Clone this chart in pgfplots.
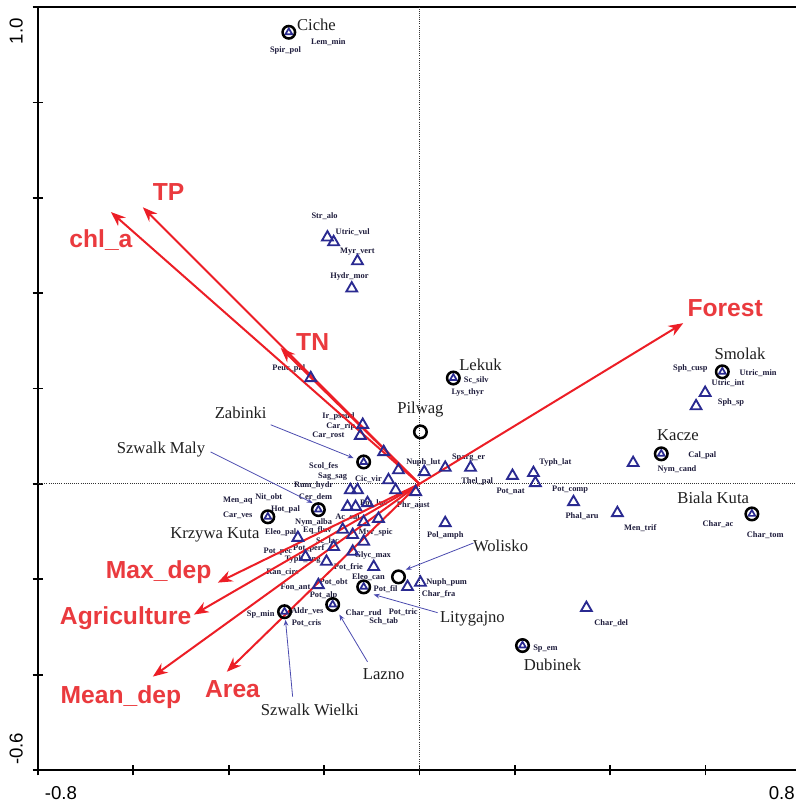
\documentclass[border=0pt]{standalone}
\usepackage{pgfplots}
\pgfplotsset{compat=1.18}
\usepackage{pgfplotstable}
\usepackage{fontspec}
\setmainfont{Liberation Serif}
\newfontfamily\arialf{Liberation Sans}
\usetikzlibrary{arrows.meta}

\definecolor{envred}{RGB}{236,30,38}
\definecolor{envlab}{RGB}{234,58,62}
\definecolor{spnavy}{RGB}{42,42,145}
\definecolor{splab}{RGB}{30,28,60}
\definecolor{leader}{RGB}{75,75,175}

% species scores (axis 1, axis 2)
\pgfplotstableread{
x y
-0.193 0.517
-0.180 0.507
-0.130 0.467
-0.142 0.410
-0.228 0.222
-0.119 0.124
-0.124 0.101
-0.075 0.067
-0.044 0.029
-0.065 0.008
-0.050 -0.013
-0.008 -0.017
0.010 0.025
-0.145 -0.013
-0.130 -0.013
-0.151 -0.048
-0.134 -0.048
-0.109 -0.040
-0.117 -0.080
-0.086 -0.073
-0.255 -0.113
-0.161 -0.096
-0.140 -0.107
-0.117 -0.121
-0.180 -0.132
-0.140 -0.142
-0.239 -0.153
-0.195 -0.163
-0.096 -0.174
-0.212 -0.212
-0.025 -0.216
0.002 -0.207
0.054 0.034
0.107 0.034
0.195 0.017
0.239 0.023
0.243 0.002
0.323 -0.038
0.415 -0.061
0.448 0.044
0.054 -0.082
0.350 -0.260
0.599 0.191
0.580 0.163
}\species

% species lying on a lake's own score
\pgfplotstableread{
x y
-0.274 0.947
0.071 0.222
0.635 0.235
0.507 0.063
0.697 -0.063
-0.117 0.046
-0.212 -0.054
-0.318 -0.069
-0.117 -0.216
-0.182 -0.253
-0.283 -0.268
0.216 -0.339
}\sitesp

% lake scores
\pgfplotstableread{
x y
-0.274 0.947
0.071 0.222
0.002 0.109
0.635 0.235
0.507 0.063
0.697 -0.063
-0.117 0.046
-0.212 -0.054
-0.318 -0.069
-0.044 -0.195
-0.117 -0.216
-0.182 -0.253
-0.283 -0.268
0.216 -0.339
}\sites

\newcommand\splab[3]{\node[font=\fontsize{6.3}{7}\selectfont\bfseries, text=splab, inner sep=0pt] at (axis cs:#1,#2) {#3};}
\newcommand\sitelab[3]{\node[font=\fontsize{12.5}{14}\selectfont, text=black!88, inner sep=0pt] at (axis cs:#1,#2) {#3};}
\newcommand\envlab[3]{\node[font=\arialf\bfseries\fontsize{18.5}{20}\selectfont, text=envlab, inner sep=0pt] at (axis cs:#1,#2) {#3};}

\begin{document}
\begin{tikzpicture}
\useasboundingbox (-28.5pt,-27pt) rectangle (568.5pt,578.25pt);
\begin{axis}[
  at={(0,0)}, anchor=south west,
  scale only axis, width=573pt, height=573pt,
  xmin=-0.8, xmax=0.8, ymin=-0.6, ymax=1.0,
  axis line style={line width=1.5pt},
  xtick={-0.8,-0.6,-0.4,-0.2,0,0.2,0.4,0.6,0.8},
  ytick={-0.6,-0.4,-0.2,0,0.2,0.4,0.6,0.8,1.0},
  xticklabels={}, yticklabels={},
  tick pos=left, tick align=center, major tick length=8pt,
  tick style={line width=1.3pt, black},
  clip=false,
]
% zero lines
\draw[densely dotted, line width=0.6pt, black!80] (axis cs:0,-0.6) -- (axis cs:0,1.0);
\draw[densely dotted, line width=0.6pt, black!80] (axis cs:-0.8,0) -- (axis cs:0.8,0);

% species
\addplot[only marks, mark=triangle, mark size=4.7pt, mark options={draw=spnavy, line width=1.4pt, fill=none}] table[x=x,y=y] {\species};
\addplot[only marks, mark=triangle, mark size=2.9pt, mark options={draw=spnavy, line width=1.3pt, fill=none}] table[x=x,y=y] {\sitesp};
% lakes
\addplot[only marks, mark=o, mark size=4.7pt, mark options={draw=black, line width=1.9pt}] table[x=x,y=y] {\sites};

% species names
\splab{-0.281}{0.909}{Spir\_pol}
\splab{-0.191}{0.926}{Lem\_min}
\splab{-0.199}{0.561}{Str\_alo}
\splab{-0.140}{0.528}{Utric\_vul}
\splab{-0.130}{0.488}{Myr\_vert}
\splab{-0.147}{0.434}{Hydr\_mor}
\splab{-0.274}{0.241}{Peuc\_pal}
\splab{-0.170}{0.142}{Ir\_pseud}
\splab{-0.165}{0.121}{Car\_rip}
\splab{-0.191}{0.101}{Car\_rost}
\splab{-0.201}{0.038}{Scol\_fes}
\splab{-0.182}{0.015}{Sag\_sag}
\splab{-0.107}{0.010}{Cic\_vir}
\splab{0.008}{0.044}{Nuph\_lut}
\splab{-0.013}{-0.044}{Phr\_aust}
\splab{-0.222}{-0.004}{Rum\_hydr}
\splab{-0.218}{-0.027}{Cer\_dem}
\splab{-0.316}{-0.027}{Nit\_obt}
\splab{-0.381}{-0.036}{Men\_aq}
\splab{-0.381}{-0.065}{Car\_ves}
\splab{-0.281}{-0.054}{Hot\_pal}
\splab{-0.096}{-0.040}{Pot\_luc}
\splab{-0.151}{-0.069}{Ac\_cal}
\splab{-0.222}{-0.080}{Nym\_alba}
\splab{-0.291}{-0.101}{Eleo\_pal}
\splab{-0.214}{-0.098}{Eq\_fluv}
\splab{-0.092}{-0.101}{Myr\_spic}
\splab{-0.193}{-0.121}{Sc\_lac}
\splab{-0.297}{-0.142}{Pot\_pec}
\splab{-0.232}{-0.136}{Pot\_perf}
\splab{-0.098}{-0.151}{Glyc\_max}
\splab{-0.245}{-0.159}{Typh\_ang}
\splab{-0.287}{-0.186}{Ran\_circ}
\splab{-0.149}{-0.174}{Pot\_frie}
\splab{-0.107}{-0.195}{Eleo\_can}
\splab{-0.260}{-0.216}{Fon\_ant}
\splab{-0.180}{-0.207}{Pot\_obt}
\splab{-0.071}{-0.220}{Pot\_fil}
\splab{-0.201}{-0.235}{Pot\_alp}
\splab{0.057}{-0.207}{Nuph\_pum}
\splab{0.040}{-0.232}{Char\_fra}
\splab{-0.333}{-0.274}{Sp\_min}
\splab{-0.235}{-0.266}{Aldr\_ves}
\splab{-0.237}{-0.291}{Pot\_cris}
\splab{-0.117}{-0.272}{Char\_rud}
\splab{-0.034}{-0.270}{Pot\_tric}
\splab{-0.075}{-0.287}{Sch\_tab}
\splab{0.119}{0.218}{Sc\_silv}
\splab{0.101}{0.191}{Lys\_thyr}
\splab{0.103}{0.054}{Sparg\_er}
\splab{0.121}{0.006}{Thel\_pal}
\splab{0.191}{-0.015}{Pot\_nat}
\splab{0.285}{0.044}{Typh\_lat}
\splab{0.316}{-0.013}{Pot\_comp}
\splab{0.341}{-0.067}{Phal\_aru}
\splab{0.463}{-0.092}{Men\_trif}
\splab{0.593}{0.059}{Cal\_pal}
\splab{0.540}{0.031}{Nym\_cand}
\splab{0.568}{0.241}{Sph\_cusp}
\splab{0.710}{0.232}{Utric\_min}
\splab{0.647}{0.212}{Utric\_int}
\splab{0.653}{0.170}{Sph\_sp}
\splab{0.626}{-0.084}{Char\_ac}
\splab{0.725}{-0.107}{Char\_tom}
\splab{0.054}{-0.109}{Pol\_amph}
\splab{0.402}{-0.291}{Char\_del}
\splab{0.264}{-0.346}{Sp\_em}

% environmental variables
\pgfplotsset{envarrow/.style={envred, line width=1.5pt, -{Stealth[length=11pt,width=8.5pt]}}}
\addplot[envarrow] coordinates {(0,0) (-0.647,0.570)};
\addplot[envarrow] coordinates {(0,0) (-0.580,0.580)};
\addplot[envarrow] coordinates {(0,0) (-0.291,0.285)};
\addplot[envarrow] coordinates {(0,0) (0.553,0.337)};
\addplot[envarrow] coordinates {(0,0) (-0.423,-0.207)};
\addplot[envarrow] coordinates {(0,0) (-0.473,-0.274)};
\addplot[envarrow] coordinates {(0,0) (-0.559,-0.404)};
\addplot[envarrow] coordinates {(0,0) (-0.404,-0.394)};

\envlab{-0.668}{0.511}{chl\_a}
\envlab{-0.526}{0.612}{TP}
\envlab{-0.224}{0.297}{TN}
\envlab{0.641}{0.369}{Forest}
\envlab{-0.547}{-0.184}{Max\_dep}
\envlab{-0.616}{-0.281}{Agriculture}
\envlab{-0.626}{-0.448}{Mean\_dep}
\envlab{-0.392}{-0.431}{Area}

% lake names and pointers
\sitelab{-0.216}{0.963}{Ciche}
\sitelab{0.128}{0.249}{Lekuk}
\sitelab{0.002}{0.155}{Pilwag}
\sitelab{0.672}{0.272}{Smolak}
\sitelab{0.542}{0.103}{Kacze}
\sitelab{0.616}{-0.029}{Biala Kuta}
\sitelab{-0.375}{0.149}{Zabinki}
\sitelab{-0.542}{0.073}{Szwalk Maly}
\sitelab{-0.429}{-0.107}{Krzywa Kuta}
\sitelab{0.170}{-0.130}{Wolisko}
\sitelab{0.111}{-0.283}{Litygajno}
\sitelab{-0.075}{-0.398}{Lazno}
\sitelab{-0.230}{-0.473}{Szwalk Wielki}
\sitelab{0.279}{-0.379}{Dubinek}

\tikzset{leaderline/.style={leader, line width=0.6pt, -{Stealth[length=4.5pt,width=3.5pt]}}}
\draw[leaderline] (axis cs:-0.312,0.124) -- (axis cs:-0.138,0.054);
\draw[leaderline] (axis cs:-0.438,0.067) -- (axis cs:-0.224,-0.040);
\draw[leaderline] (axis cs:0.113,-0.124) -- (axis cs:-0.029,-0.180);
\draw[leaderline] (axis cs:0.038,-0.270) -- (axis cs:-0.096,-0.232);
\draw[leaderline] (axis cs:-0.109,-0.373) -- (axis cs:-0.168,-0.274);
\draw[leaderline] (axis cs:-0.266,-0.446) -- (axis cs:-0.281,-0.285);

% axis end labels
\node[font=\arialf\fontsize{14}{16}\selectfont, anchor=north west, inner sep=0pt] at ([xshift=5pt,yshift=-12pt]axis cs:-0.8,-0.6) {-0.8};
\node[font=\arialf\fontsize{14}{16}\selectfont, anchor=north east, inner sep=0pt] at ([xshift=-4.5pt,yshift=-12pt]axis cs:0.8,-0.6) {0.8};
\node[font=\arialf\fontsize{14}{16}\selectfont, rotate=90, anchor=south east, inner sep=0pt] at ([xshift=-11.25pt,yshift=-8.25pt]axis cs:-0.8,1.0) {1.0};
\node[font=\arialf\fontsize{14}{16}\selectfont, rotate=90, anchor=south west, inner sep=0pt] at ([xshift=-11.25pt,yshift=3.75pt]axis cs:-0.8,-0.6) {-0.6};
\end{axis}
\end{tikzpicture}
\end{document}
